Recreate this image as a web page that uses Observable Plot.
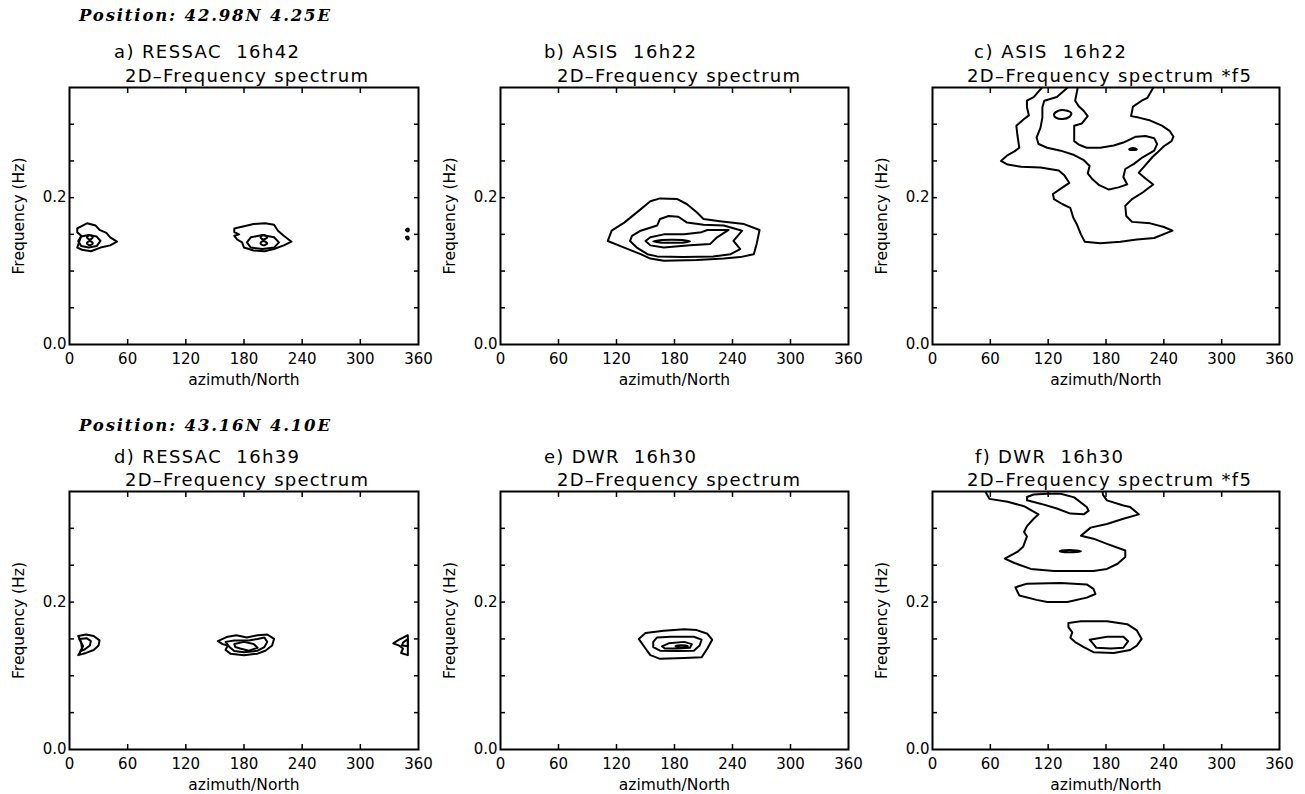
<!DOCTYPE html>
<html><head><meta charset="utf-8">
<script src="https://cdn.jsdelivr.net/npm/d3@7"></script>
<script src="https://cdn.jsdelivr.net/npm/@observablehq/plot@0.6"></script>
<style>
html,body{margin:0;padding:0;background:#fff;}
#root{position:relative;width:1305px;height:794px;overflow:hidden;background:#fff;font-family:"DejaVu Sans",sans-serif;}
#root .panel{position:absolute;}
#root svg{overflow:visible;}
#overlay{position:absolute;left:0;top:0;pointer-events:none;}
</style></head>
<body><div id="root"></div>
<script>
// ---------- tick labels / text ----------
const azimuthTicks = [0, 60, 120, 180, 240, 300, 360];
const freqTickLabels = [0.0, 0.2];
const freqMinorTicks = [0.05, 0.10, 0.15, 0.20, 0.25, 0.30];
const xAxisLabel = "azimuth/North";
const yAxisLabel = "Frequency (Hz)";
const positionLabels = ["Position: 42.98N 4.25E", "Position: 43.16N 4.10E"];
const panelTitles = ["a) RESSAC  16h42", "b) ASIS  16h22", "c) ASIS  16h22",
                     "d) RESSAC  16h39", "e) DWR  16h30", "f) DWR  16h30"];
const panelSubtitles = ["2D\u2013Frequency spectrum", "2D\u2013Frequency spectrum", "2D\u2013Frequency spectrum *f5",
                        "2D\u2013Frequency spectrum", "2D\u2013Frequency spectrum", "2D\u2013Frequency spectrum *f5"];

// ---------- contour lines: [azimuth (deg), frequency (Hz)] ----------
// a) RESSAC 16h42
const aClosed = [
  [[8,0.158],[18,0.165],[27,0.162],[31,0.156],[38,0.152],[42,0.146],[49,0.140],[42,0.135],[32,0.132],[22,0.127],[13,0.129],[8,0.132],[10,0.140],[12,0.148],[8,0.153]],
  [[9,0.141],[12,0.147],[20,0.149],[28,0.147],[32,0.141],[28,0.134],[20,0.132],[12,0.134]],
  [[170,0.158],[190,0.164],[202,0.165],[211,0.163],[215,0.155],[221,0.148],[229,0.140],[221,0.135],[211,0.130],[201,0.127],[190,0.128],[180,0.132],[178,0.139],[173,0.143],[170,0.148],[175,0.150],[170,0.153]],
  [[183,0.139],[187,0.146],[199,0.149],[211,0.146],[216,0.139],[211,0.132],[199,0.130],[187,0.132]]
];
const aLoops = [
  [[18,0.146],[21,0.149],[24,0.146],[21,0.143]],
  [[18,0.138],[21,0.141],[24,0.138],[21,0.135]],
  [[197,0.146],[200,0.149],[204,0.146],[200,0.143]],
  [[197,0.138],[200,0.141],[204,0.138],[200,0.135]],
  [[347,0.156],[349,0.158],[350,0.156],[349,0.154]],
  [[347,0.146],[349,0.147],[350,0.145],[349,0.143]]
];
const aOpen = [];

// b) ASIS 16h22
const bClosed = [
  [[111,0.141],[115,0.155],[128,0.166],[143,0.182],[155,0.195],[165,0.199],[183,0.198],[193,0.191],[203,0.180],[210,0.171],[227,0.168],[252,0.164],[268,0.156],[265,0.137],[262,0.123],[248,0.119],[231,0.117],[203,0.115],[169,0.114],[155,0.117],[145,0.123],[128,0.132]],
  [[134,0.141],[136,0.148],[145,0.155],[162,0.162],[165,0.171],[174,0.175],[184,0.174],[193,0.166],[210,0.163],[231,0.162],[250,0.155],[241,0.141],[248,0.130],[238,0.123],[220,0.120],[189,0.119],[162,0.120],[152,0.123],[141,0.132]],
  [[150,0.141],[155,0.146],[169,0.150],[190,0.150],[208,0.153],[214,0.156],[236,0.156],[224,0.146],[217,0.137],[196,0.135],[169,0.132],[155,0.135]]
];
const bLoops = [
  [[158,0.1405],[165,0.142],[177,0.1425],[190,0.142],[196,0.1405],[190,0.139],[177,0.1385],[165,0.139]]
];
const bOpen = [];

// c) ASIS 16h22 *f5
const cOpen = [
  [[115,0.352],[105,0.337],[98,0.332],[98,0.323],[100,0.312],[95,0.307],[87,0.298],[88,0.286],[90,0.268],[85,0.263],[78,0.258],[71,0.250],[78,0.245],[92,0.242],[112,0.241],[131,0.237],[137,0.230],[142,0.220],[135,0.214],[125,0.205],[126,0.198],[135,0.191],[143,0.186],[146,0.173],[150,0.163],[154,0.150],[158,0.140],[174,0.138],[195,0.140],[212,0.143],[230,0.145],[249,0.155],[240,0.160],[226,0.165],[207,0.167],[201,0.175],[200,0.189],[207,0.198],[218,0.207],[229,0.218],[221,0.226],[214,0.234],[220,0.243],[228,0.255],[233,0.261],[240,0.270],[248,0.277],[250,0.283],[246,0.291],[238,0.298],[226,0.305],[214,0.309],[206,0.311],[208,0.324],[217,0.332],[223,0.336],[230,0.352]],
  [[142,0.352],[129,0.337],[116,0.332],[114,0.323],[114,0.309],[112,0.295],[108,0.282],[110,0.273],[119,0.268],[133,0.264],[147,0.258],[157,0.251],[163,0.243],[161,0.233],[166,0.225],[173,0.217],[183,0.211],[193,0.214],[202,0.218],[198,0.228],[200,0.239],[209,0.246],[218,0.255],[230,0.264],[233,0.273],[230,0.281],[221,0.284],[211,0.283],[198,0.275],[188,0.271],[174,0.268],[160,0.268],[152,0.272],[147,0.277],[147,0.289],[147,0.298],[155,0.301],[161,0.311],[157,0.318],[152,0.324],[148,0.332],[151,0.352]]
];
const cLoops = [
  [[126,0.313],[130,0.318],[137,0.319],[144,0.315],[142,0.310],[135,0.307],[128,0.309]],
  [[204,0.266],[208,0.2675],[212,0.266],[208,0.2648]]
];
const cClosed = [];

// d) RESSAC 16h39
const dClosed = [
  [[9,0.154],[17,0.156],[25,0.154],[31,0.148],[30,0.141],[25,0.135],[17,0.131],[9,0.128],[13,0.136],[12,0.146]],
  [[10,0.150],[18,0.151],[22,0.147],[21,0.141],[16,0.136],[11,0.133],[14,0.140]],
  [[153,0.147],[162,0.1525],[172,0.155],[183,0.152],[194,0.155],[204,0.156],[211,0.150],[209,0.141],[202,0.134],[194,0.130],[180,0.128],[166,0.130],[161,0.135],[163,0.141],[158,0.143]],
  [[161,0.146],[170,0.148],[185,0.148],[194,0.150],[201,0.152],[204,0.146],[201,0.139],[194,0.134],[180,0.132],[170,0.1335],[165,0.139]],
  [[170,0.143],[180,0.146],[190,0.143],[194,0.138],[185,0.134],[176,0.137],[171,0.139]],
  [[349,0.155],[340,0.149],[334,0.144],[340,0.141],[344,0.137],[342,0.131],[349,0.128]],
  [[349,0.150],[344,0.145],[343,0.141],[349,0.140]]
];
const dLoops = [];
const dOpen = [];

// e) DWR 16h30
const eClosed = [
  [[143,0.150],[150,0.158],[169,0.161],[190,0.163],[203,0.162],[214,0.157],[219,0.149],[214,0.137],[208,0.125],[190,0.124],[165,0.123],[155,0.128],[150,0.137]],
  [[158,0.146],[162,0.152],[176,0.153],[200,0.153],[208,0.149],[206,0.141],[200,0.134],[183,0.1335],[165,0.134],[158,0.139]],
  [[167,0.140],[174,0.144],[190,0.146],[198,0.143],[196,0.138],[183,0.137],[170,0.137]]
];
const eLoops = [
  [[181,0.140],[187,0.1415],[194,0.140],[187,0.1385]]
];
const eOpen = [];

// f) DWR 16h30 *f5
const fOpen = [
  [[54,0.352],[59,0.340],[78,0.336],[95,0.330],[110,0.319],[105,0.313],[98,0.303],[95,0.295],[98,0.289],[94,0.275],[88,0.268],[75,0.259],[85,0.253],[102,0.245],[126,0.242],[167,0.242],[181,0.245],[192,0.252],[200,0.261],[200,0.270],[181,0.279],[167,0.286],[154,0.290],[164,0.301],[181,0.306],[198,0.313],[214,0.319],[205,0.329],[198,0.331],[181,0.338],[177,0.345],[176,0.352]]
];
const fClosed = [
  [[98,0.3425],[105,0.346],[119,0.347],[133,0.347],[147,0.342],[160,0.329],[162,0.324],[157,0.319],[143,0.320],[129,0.327],[112,0.3335],[98,0.338]],
  [[86,0.220],[98,0.225],[133,0.226],[160,0.224],[167,0.218],[169,0.211],[160,0.206],[140,0.200],[119,0.200],[108,0.203],[90,0.209]],
  [[141,0.1715],[154,0.174],[181,0.174],[202,0.170],[212,0.1615],[217,0.150],[212,0.141],[205,0.135],[188,0.131],[167,0.132],[157,0.139],[148,0.1457],[143,0.1516],[145,0.159],[141,0.166]],
  [[163,0.149],[181,0.153],[198,0.153],[203,0.147],[198,0.138],[185,0.137],[170,0.138],[167,0.143]]
];
const fLoops = [
  [[132,0.269],[142,0.2705],[154,0.269],[142,0.2675]]
];

// ---------- layout ----------
const panels = [
  {closed:aClosed, loops:aLoops, open:aOpen, left:69,  top:87,  w:349, h:257, tx:114, sx:125},
  {closed:bClosed, loops:bLoops, open:bOpen, left:500, top:87,  w:348, h:257, tx:544, sx:557},
  {closed:cClosed, loops:cLoops, open:cOpen, left:932, top:87,  w:347, h:257, tx:974, sx:967},
  {closed:dClosed, loops:dLoops, open:dOpen, left:69,  top:491, w:349, h:258, tx:114, sx:125},
  {closed:eClosed, loops:eLoops, open:eOpen, left:500, top:491, w:348, h:258, tx:544, sx:557},
  {closed:fClosed, loops:fLoops, open:fOpen, left:932, top:491, w:347, h:258, tx:975, sx:967}
];
const titleLen = [185, 152, 152, 185, 152, 148];
const subLen = [243, 243, 284, 243, 243, 284];

function rows(list){ return list.flatMap((pts,i)=>pts.map(([az,f])=>({az, f, id:i}))); }

const root = document.getElementById("root");
const ML = 69, MT = 10, MR = 20, MB = 50;
const innerTicksX = azimuthTicks.filter(t => t > 0 && t < 360);

panels.forEach((p, k) => {
  const line = (data, curve, sw) => Plot.line(rows(data), {x:"az", y:"f", z:"id", curve, stroke:"black", strokeWidth:sw, strokeLinejoin:"round", clip:true});
  const chart = Plot.plot({
    width: ML + p.w + MR, height: MT + p.h + MB,
    marginLeft: ML, marginTop: MT, marginRight: MR, marginBottom: MB,
    x: {domain:[0,360]}, y: {domain:[0,0.35]},
    style: {background:"transparent", fontFamily:"'DejaVu Sans', sans-serif", color:"black", maxWidth:"none", overflow:"visible"},
    marks: [
      line(p.closed, "linear-closed", 2),
      line(p.open, "linear", 2),
      line(p.loops, "catmull-rom-closed", 2),
      Plot.axisX(azimuthTicks, {anchor:"bottom", tickSize:0, tickPadding:9, fontSize:15, label:null}),
      Plot.axisX(innerTicksX, {anchor:"bottom", tickSize:-5, fill:"none", strokeWidth:1.5, label:null}),
      Plot.axisX(innerTicksX, {anchor:"top", tickSize:-5, fill:"none", strokeWidth:1.5, label:null}),
      Plot.axisY(freqTickLabels, {anchor:"left", tickSize:0, tickPadding:3, fontSize:15, tickFormat:d3.format(".1f"), label:null}),
      Plot.axisY(freqMinorTicks, {anchor:"left", tickSize:-5, fill:"none", strokeWidth:1.5, label:null}),
      Plot.axisY(freqMinorTicks, {anchor:"right", tickSize:-5, fill:"none", strokeWidth:1.5, label:null}),
      Plot.text([xAxisLabel], {text:d=>d, frameAnchor:"bottom", textAnchor:"middle", lineAnchor:"middle", dy:36, fontSize:15.5}),
      Plot.text([yAxisLabel], {text:d=>d, frameAnchor:"left", textAnchor:"middle", lineAnchor:"middle", dx:-50, rotate:-90, fontSize:15.5}),
      Plot.frame({stroke:"black", strokeWidth:2})
    ]
  });
  const div = document.createElement("div");
  div.className = "panel";
  div.style.left = (p.left - ML) + "px";
  div.style.top = (p.top - MT) + "px";
  div.appendChild(chart);
  root.appendChild(div);
});

// ---------- titles ----------
const svg = d3.select(root).append("svg").attr("id","overlay").attr("width",1305).attr("height",794);
const rowBase = [{pos:21, title:57.5, sub:81.5}, {pos:431, title:462.5, sub:486}];
positionLabels.forEach((t, r) => {
  svg.append("text").attr("x", 79).attr("y", rowBase[r].pos)
    .attr("textLength", 251).attr("lengthAdjust", "spacing")
    .style("font-family", "'DejaVu Serif', serif").style("font-weight", "bold").style("font-style", "italic")
    .style("font-size", "16.5px").style("white-space", "pre").text(t);
});
panels.forEach((p, k) => {
  const r = k < 3 ? 0 : 1;
  svg.append("text").attr("x", p.tx).attr("y", rowBase[r].title)
    .attr("textLength", titleLen[k]).attr("lengthAdjust", "spacing")
    .style("font-family", "'DejaVu Sans', sans-serif").style("font-size", "18px").style("white-space", "pre")
    .text(panelTitles[k]);
  svg.append("text").attr("x", p.sx).attr("y", rowBase[r].sub)
    .attr("textLength", subLen[k]).attr("lengthAdjust", "spacing")
    .style("font-family", "'DejaVu Sans', sans-serif").style("font-size", "18px").style("white-space", "pre")
    .text(panelSubtitles[k]);
});
</script></body></html>
